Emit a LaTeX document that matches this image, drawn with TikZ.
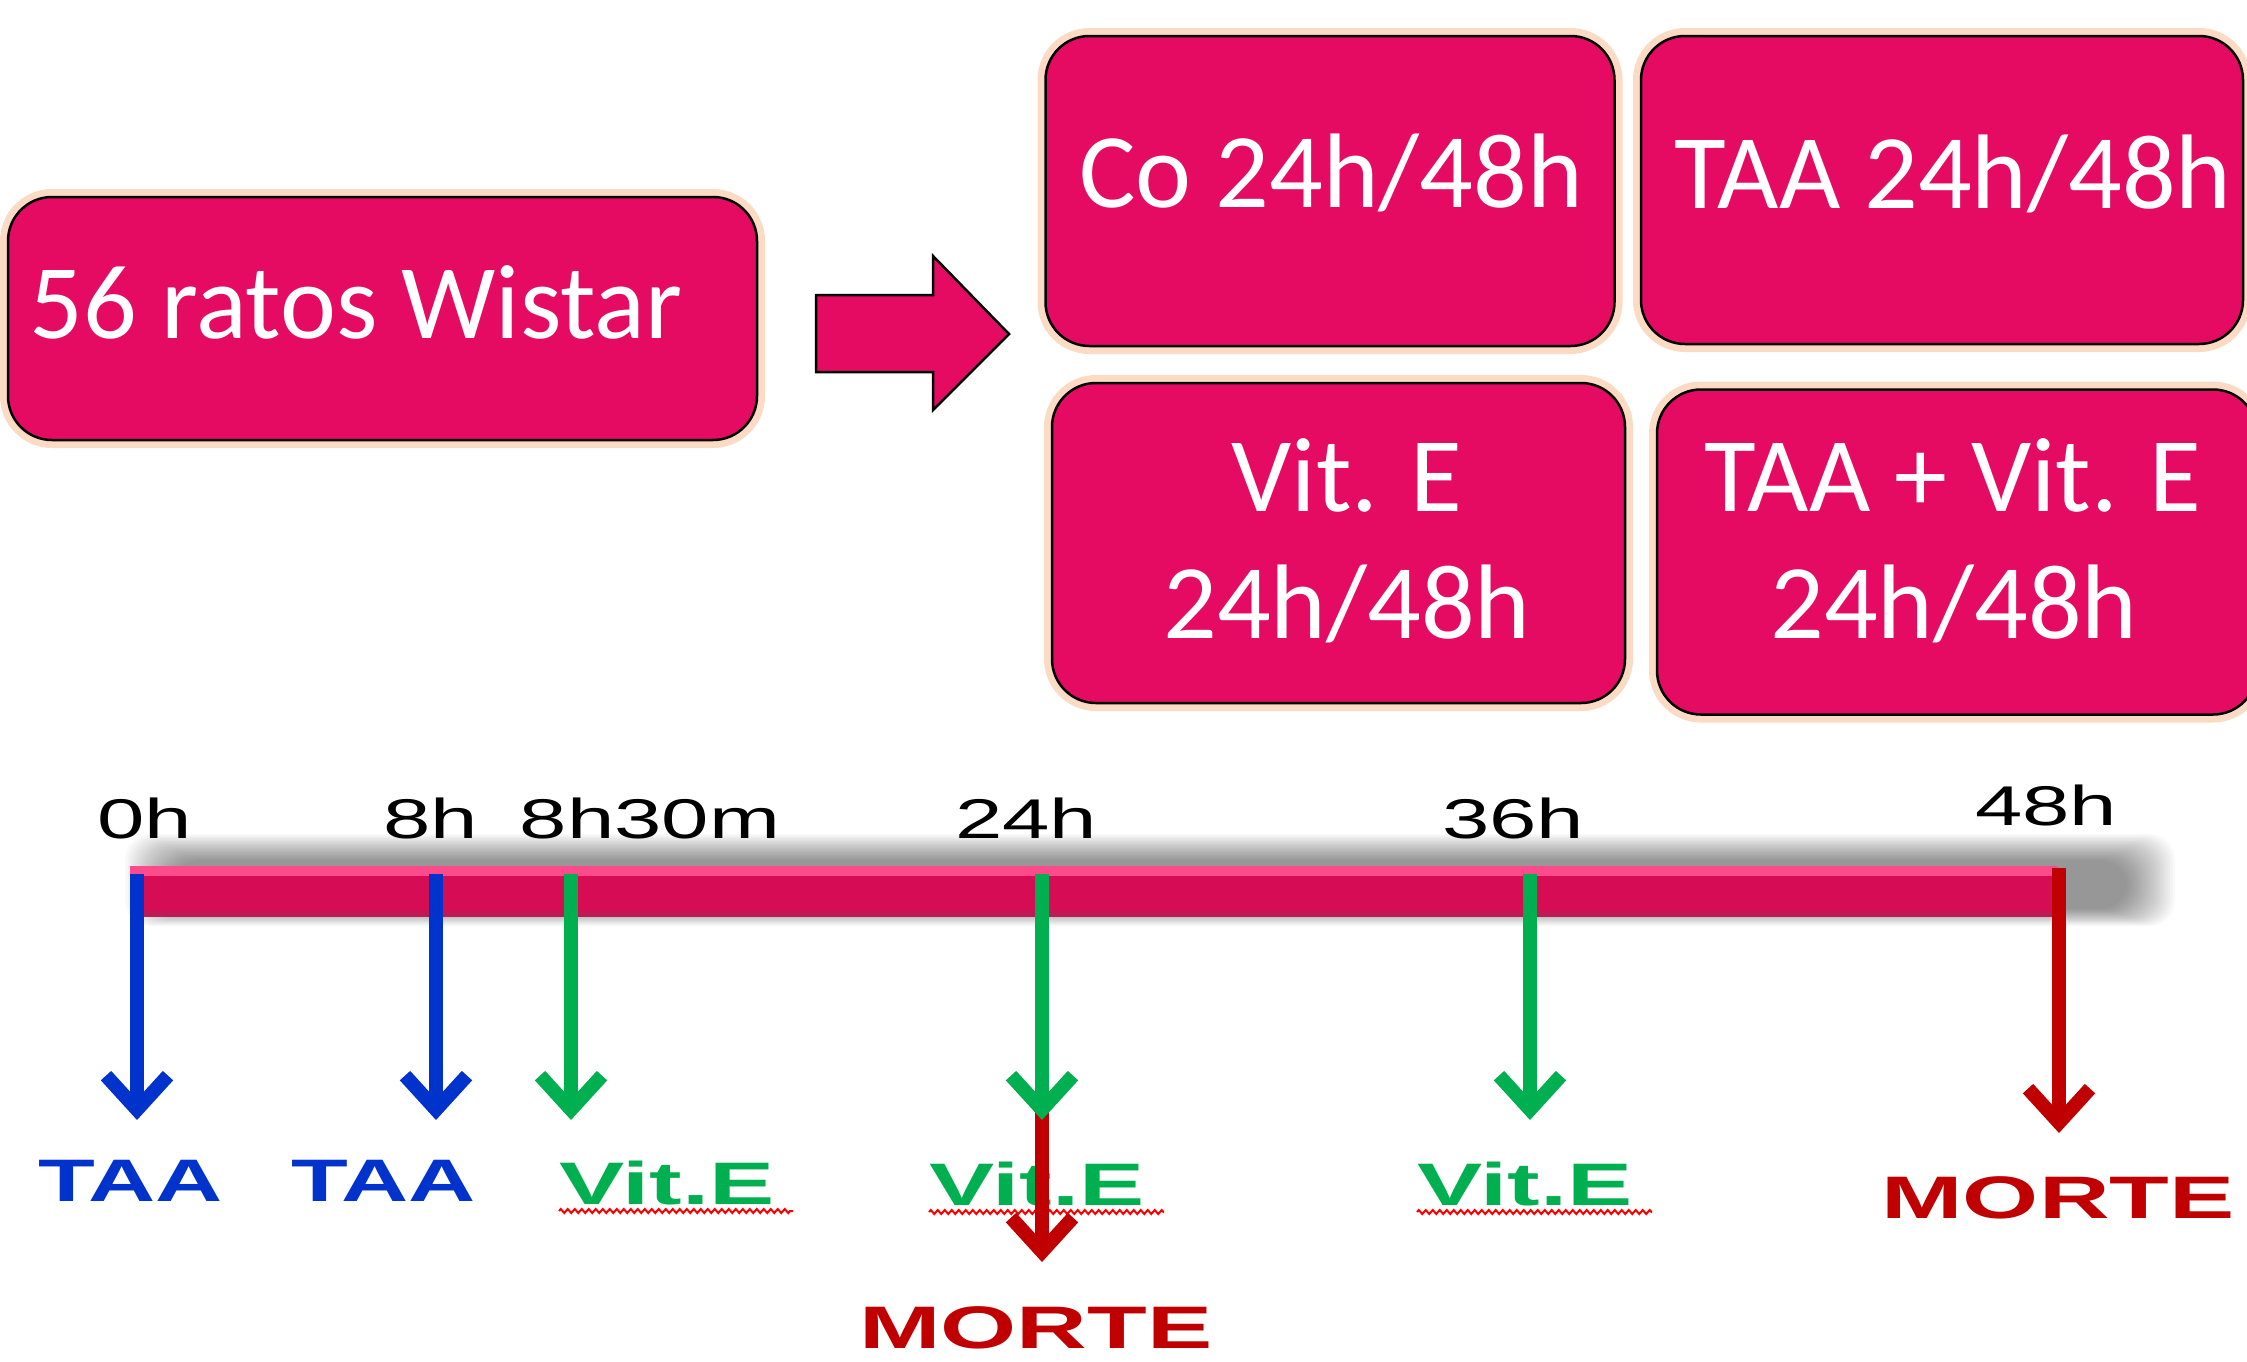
\documentclass[tikz,border=0pt]{standalone}
\usepackage{fontspec}
\usetikzlibrary{arrows.meta,decorations.pathmorphing}
\newfontfamily\calfont{Carlito}
\newfontfamily\arifont{Liberation Sans}
\definecolor{boxc}{HTML}{E50B63}
\definecolor{barc}{HTML}{D60C55}
\definecolor{barhi}{HTML}{FF4A8C}
\definecolor{barlo}{HTML}{BE1A55}
\definecolor{glowc}{HTML}{F9B98A}
\definecolor{tblue}{HTML}{0033CC}
\definecolor{tgreen}{HTML}{00B050}
\definecolor{tred}{HTML}{C00000}
\begin{document}
\begin{tikzpicture}[x=1pt,y=-1pt,
 box/.style={draw=black, line width=2.5pt, fill=boxc, rounded corners=44pt, inner sep=0pt, outer sep=0pt,
   preaction={draw=glowc, line width=16pt, draw opacity=0.5}},
 btext/.style={text=white, inner sep=0pt, anchor=base, font=\calfont\fontsize{106}{127}\selectfont},
 tlab/.style={text=black, inner sep=0pt, anchor=base, font=\arifont\fontsize{56}{60}\selectfont},
 blab/.style={inner sep=0pt, anchor=base, font=\arifont\bfseries\fontsize{60}{66}\selectfont},
 evt/.style={line width=14pt, -{Straight Barb[length=34pt,width=62pt]}},
 squig/.style={draw=red, line width=2pt, decorate, decoration={zigzag, segment length=7pt, amplitude=2pt}}
]
\useasboundingbox (0,0) rectangle (2247,1361);
\fill[white] (0,0) rectangle (2247,1361);
\clip (0,0) rectangle (2247,1361);

% ---- boxes ----
\node[box, minimum width=749pt, minimum height=243pt] (b0) at (382.5,318.5) {};
\node[box, minimum width=569pt, minimum height=310pt] (bco) at (1330,191) {};
\node[box, minimum width=602pt, minimum height=308pt] (btaa) at (1942,190) {};
\node[box, minimum width=573pt, minimum height=320pt] (bvit) at (1338.5,543) {};
\node[box, minimum width=600pt, minimum height=325pt] (bboth) at (1957,552) {};

\node[btext] (t0) at (356,338) {56 ratos Wistar};
\node[btext] (tco) at (1331,207) {Co 24h/48h};
\node[btext] (ttaa) at (1953,208) {TAA 24h/48h};
\node[btext] (tvit1) at (1347,511) {Vit. E};
\node[btext] (tvit2) at (1347,638) {24h/48h};
\node[btext] (tboth1) at (1953,511) {TAA + Vit. E};
\node[btext] (tboth2) at (1954,638) {24h/48h};

% ---- block arrow ----
\draw[fill=boxc, line width=2.5pt, line join=miter]
  (816,295) -- (933,295) -- (933,256) -- (1009,334) -- (933,410) -- (933,372) -- (816,372) -- cycle;

% ---- timeline shadow (soft) ----
\foreach \e in {0,...,19}{
  \fill[black, opacity=0.022, rounded corners=26pt]
    (175-50+2.5*\e, 862-28+1.4*\e) rectangle (2125+50-2.5*\e, 906+20-0.9*\e);
}
% ---- timeline bar ----
\fill[barc] (130,866) rectangle (2058,917);
\fill[barhi] (130,866) rectangle (2058,876);
\fill[barlo] (130,911) rectangle (2058,917);

% ---- time labels ----
\node[tlab] (h0) at (145,838) {\scalebox{1.52}[1]{0h}};
\node[tlab] (h8) at (431,838) {\scalebox{1.52}[1]{8h}};
\node[tlab] (h830) at (650,838) {\scalebox{1.52}[1]{8h30m}};
\node[tlab] (h24) at (1026,838) {\scalebox{1.52}[1]{24h}};
\node[tlab] (h36) at (1513,838) {\scalebox{1.52}[1]{36h}};
\node[tlab] (h48) at (2046,825) {\scalebox{1.52}[1]{48h}};

% ---- event labels ----
\node[blab, text=tblue] (l1) at (131,1201) {\scalebox{1.55}[1]{TAA}};
\node[blab, text=tblue] (l2) at (384,1201) {\scalebox{1.55}[1]{TAA}};
\node[blab, text=tgreen] (l3) at (667,1204) {\scalebox{1.63}[1]{Vit.E}};
\node[blab, text=tgreen] (l4) at (1037,1205) {\scalebox{1.63}[1]{Vit.E}};
\node[blab, text=tgreen] (l5) at (1525,1205) {\scalebox{1.63}[1]{Vit.E}};
\node[blab, text=tred] (l6) at (2058,1218) {\scalebox{1.63}[1]{MORTE}};
\node[blab, text=tred] (l7) at (1036,1348) {\scalebox{1.63}[1]{MORTE}};

\draw[squig] (559,1211) -- (793,1211);
\draw[squig] (929,1212) -- (1164,1212);
\draw[squig] (1417,1212) -- (1652,1212);

% ---- event arrows ----
\coordinate (s1) at (137,874);  \coordinate (e1) at (137,1120);
\coordinate (s2) at (436,874);  \coordinate (e2) at (436,1120);
\coordinate (s3) at (571,874);  \coordinate (e3) at (571,1120);
\coordinate (s4) at (1042,874); \coordinate (e4) at (1042,1120);
\coordinate (s4r) at (1042,1090); \coordinate (e4r) at (1042,1262);
\coordinate (s5) at (1530,874); \coordinate (e5) at (1530,1120);
\coordinate (s6) at (2059,868); \coordinate (e6) at (2059,1133);

\draw[evt, tblue] (s1) -- (e1);
\draw[evt, tblue] (s2) -- (e2);
\draw[evt, tgreen] (s3) -- (e3);
\draw[evt, tred] (s4r) -- (e4r);
\draw[evt, tgreen] (s4) -- (e4);
\draw[evt, tgreen] (s5) -- (e5);
\draw[evt, tred] (s6) -- (e6);
\end{tikzpicture}
\end{document}
